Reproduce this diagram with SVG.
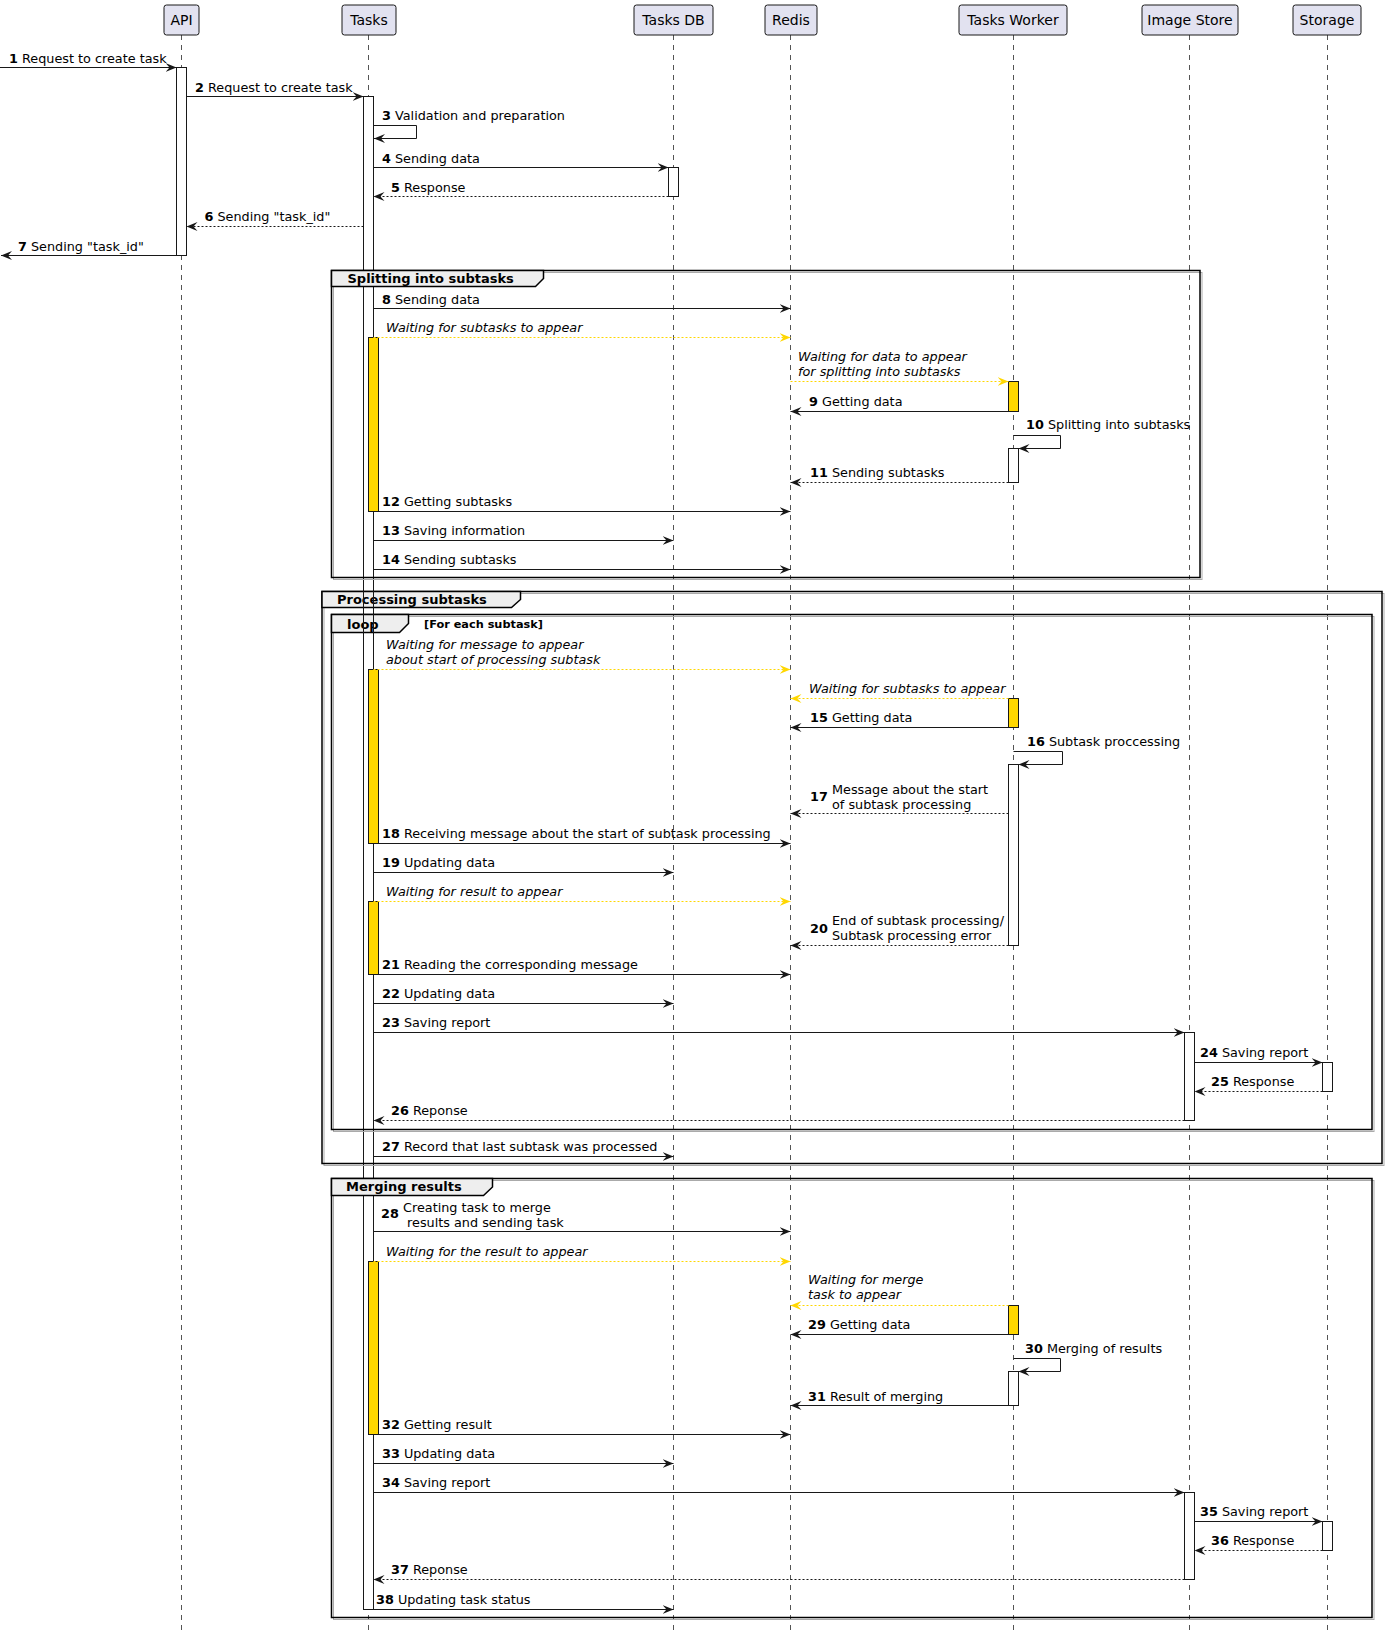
<svg xmlns="http://www.w3.org/2000/svg" width="1386" height="1640" viewBox="0 0 1386 1640">
<style>
text{font-family:"DejaVu Sans","Liberation Sans",sans-serif;fill:#000}
.l{font-size:12.8px}
.it{font-style:italic}
.b{font-weight:bold}
.pt{font-size:14px;text-anchor:middle}
.pbox{fill:#E2E2F0;stroke:#181818;stroke-width:1}
.ll{stroke:#555;stroke-width:1;stroke-dasharray:5,5;fill:none}
.m{stroke:#181818;stroke-width:1;fill:none;marker-end:url(#ah)}
.d{stroke-dasharray:2,2}
.y{stroke:#FFD700;stroke-width:1;fill:none;stroke-dasharray:2,2;marker-end:url(#ahy)}
.bar{fill:#fff;stroke:#181818;stroke-width:1}
.ybar{fill:#FFD700;stroke:#181818;stroke-width:1}
.fr{fill:none;stroke:#000;stroke-width:1.5}
.frs{fill:none;stroke:#aaa;stroke-width:1}
.tab{fill:#EEEEEE;stroke:#000;stroke-width:1.5}
.ft{font-size:13px;font-weight:bold}
.bl{stroke:#181818;stroke-width:1}
</style>
<defs>
<marker id="ah" markerUnits="userSpaceOnUse" markerWidth="12" markerHeight="10" viewBox="0 0 12 10" refX="11" refY="5" orient="auto"><path d="M0,0.5 L11,5 L0,9.5 L4,5 Z" fill="#181818" stroke="none"/></marker>
<marker id="ahy" markerUnits="userSpaceOnUse" markerWidth="12" markerHeight="10" viewBox="0 0 12 10" refX="11" refY="5" orient="auto"><path d="M0,0.5 L11,5 L0,9.5 L4,5 Z" fill="#FFD700" stroke="none"/></marker>
</defs>
<rect width="1386" height="1640" fill="#fff"/>

<g id="lifelines">
<line class="ll" x1="181.5" y1="35" x2="181.5" y2="1632"/>
<line class="ll" x1="368.5" y1="35" x2="368.5" y2="1632"/>
<line class="ll" x1="673.5" y1="35" x2="673.5" y2="1632"/>
<line class="ll" x1="790.5" y1="35" x2="790.5" y2="1632"/>
<line class="ll" x1="1013.5" y1="35" x2="1013.5" y2="1632"/>
<line class="ll" x1="1189.5" y1="35" x2="1189.5" y2="1632"/>
<line class="ll" x1="1327.5" y1="35" x2="1327.5" y2="1632"/>
</g>

<g id="p-api"><rect class="pbox" x="164" y="5" width="35" height="30" rx="2.5"/><text class="pt" x="181.5" y="25">API</text></g>
<g id="p-tasks"><rect class="pbox" x="342" y="5" width="54" height="30" rx="2.5"/><text class="pt" x="369" y="25">Tasks</text></g>
<g id="p-tasksdb"><rect class="pbox" x="634" y="5" width="79" height="30" rx="2.5"/><text class="pt" x="673.5" y="25">Tasks DB</text></g>
<g id="p-redis"><rect class="pbox" x="765" y="5" width="52" height="30" rx="2.5"/><text class="pt" x="791" y="25">Redis</text></g>
<g id="p-worker"><rect class="pbox" x="959" y="5" width="108" height="30" rx="2.5"/><text class="pt" x="1013" y="25">Tasks Worker</text></g>
<g id="p-imagestore"><rect class="pbox" x="1142" y="5" width="96" height="30" rx="2.5"/><text class="pt" x="1190" y="25">Image Store</text></g>
<g id="p-storage"><rect class="pbox" x="1293" y="5" width="68" height="30" rx="2.5"/><text class="pt" x="1327" y="25">Storage</text></g>

<g id="activations">
<rect class="bar" x="176.5" y="67.5" width="10" height="188"/>
<rect class="bar" x="363.5" y="96.5" width="10" height="1513"/>
<rect class="bar" x="668.5" y="167.5" width="10" height="29"/>
<rect class="ybar" x="368.5" y="337.5" width="10" height="174"/>
<rect class="ybar" x="1008.5" y="381.5" width="10" height="30"/>
<rect class="bar" x="1008.5" y="448.5" width="10" height="34"/>
<rect class="ybar" x="368.5" y="669.5" width="10" height="174"/>
<rect class="ybar" x="1008.5" y="698.5" width="10" height="29"/>
<rect class="bar" x="1008.5" y="764.5" width="10" height="181"/>
<rect class="ybar" x="368.5" y="901.5" width="10" height="73"/>
<rect class="bar" x="1184.5" y="1032.5" width="10" height="88"/>
<rect class="bar" x="1322.5" y="1062.5" width="10" height="29"/>
<rect class="ybar" x="368.5" y="1261.5" width="10" height="173"/>
<rect class="ybar" x="1008.5" y="1305.5" width="10" height="29"/>
<rect class="bar" x="1008.5" y="1371.5" width="10" height="34"/>
<rect class="bar" x="1184.5" y="1492.5" width="10" height="87"/>
<rect class="bar" x="1322.5" y="1521.5" width="10" height="29"/>
</g>

<g id="frame-split">
<rect class="frs" x="333.5" y="272.5" width="868.5" height="307"/>
<rect class="fr" x="331.5" y="270.5" width="868.5" height="307"/>
<path class="tab" d="M331.5,270.5 H543.5 V278.5 L535.5,286.5 H331.5 Z"/>
<text class="ft" x="347.5" y="282.5">Splitting into subtasks</text>
</g>
<g id="frame-processing">
<rect class="frs" x="324" y="593.5" width="1060" height="572"/>
<rect class="fr" x="322" y="591.5" width="1060" height="572"/>
<path class="tab" d="M322,591.5 H520.5 V599.5 L511.5,607.5 H322 Z"/>
<text class="ft" x="337" y="603.5">Processing subtasks</text>
<line class="bl" x1="363.5" y1="591" x2="363.5" y2="608"/>
<line class="bl" x1="373.5" y1="591" x2="373.5" y2="608"/>
</g>
<g id="frame-loop">
<rect class="frs" x="333.5" y="616.5" width="1040.5" height="515"/>
<rect class="fr" x="331.5" y="614.5" width="1040.5" height="515"/>
<path class="tab" d="M331.5,614.5 H408.5 V623.5 L399.5,632.5 H331.5 Z"/>
<text class="ft" x="347" y="628.5">loop</text>
<line class="bl" x1="363.5" y1="614" x2="363.5" y2="633"/>
<line class="bl" x1="373.5" y1="614" x2="373.5" y2="633"/>
<text class="b" style="font-size:11.3px" x="424" y="627.5">[For each subtask]</text>
</g>
<g id="frame-merging">
<rect class="frs" x="333.5" y="1180.5" width="1040.5" height="439"/>
<rect class="fr" x="331.5" y="1178.5" width="1040.5" height="439"/>
<path class="tab" d="M331.5,1178.5 H492.5 V1187 L483.5,1195.5 H331.5 Z"/>
<text class="ft" x="346" y="1191">Merging results</text>
</g>

<g id="connectors">
<line class="m" x1="0" y1="67.5" x2="176.5" y2="67.5"/>
<text class="l" x="9" y="62.5"><tspan class="b">1</tspan> Request to create task</text>
<line class="m" x1="186.5" y1="96.5" x2="363.5" y2="96.5"/>
<text class="l" x="195" y="91.5"><tspan class="b">2</tspan> Request to create task</text>
<path class="m" d="M373.5,125.5 H416.5 V138.5 H374"/>
<text class="l" x="382" y="120"><tspan class="b">3</tspan> Validation and preparation</text>
<line class="m" x1="373.5" y1="167.5" x2="668.5" y2="167.5"/>
<text class="l" x="382" y="162.5"><tspan class="b">4</tspan> Sending data</text>
<line class="m d" x1="668.5" y1="196.5" x2="373.5" y2="196.5"/>
<text class="l" x="391" y="191.5"><tspan class="b">5</tspan> Response</text>
<line class="m d" x1="363.5" y1="226.5" x2="186.5" y2="226.5"/>
<text class="l" x="204.5" y="221"><tspan class="b">6</tspan> Sending "task_id"</text>
<line class="m" x1="176.5" y1="255.5" x2="1" y2="255.5"/>
<text class="l" x="18" y="250.5"><tspan class="b">7</tspan> Sending "task_id"</text>

<line class="m" x1="373.5" y1="308.5" x2="790.5" y2="308.5"/>
<text class="l" x="382" y="303.5"><tspan class="b">8</tspan> Sending data</text>
<line class="y" x1="373.5" y1="337.5" x2="790.5" y2="337.5"/>
<text class="l it" x="386" y="332">Waiting for subtasks to appear</text>
<line class="y" x1="790.5" y1="381.5" x2="1008.5" y2="381.5"/>
<text class="l it" x="798" y="361">Waiting for data to appear</text>
<text class="l it" x="798" y="376">for splitting into subtasks</text>
<line class="m" x1="1008.5" y1="411.5" x2="790.5" y2="411.5"/>
<text class="l" x="809" y="405.5"><tspan class="b">9</tspan> Getting data</text>
<path class="m" d="M1013.5,435.5 H1060.5 V448.5 H1018.5"/>
<text class="l" x="1026" y="429"><tspan class="b">10</tspan> Splitting into subtasks</text>
<line class="m d" x1="1008.5" y1="482.5" x2="790.5" y2="482.5"/>
<text class="l" x="810" y="477"><tspan class="b">11</tspan> Sending subtasks</text>
<line class="m" x1="373.5" y1="511.5" x2="790.5" y2="511.5"/>
<text class="l" x="382" y="506"><tspan class="b">12</tspan> Getting subtasks</text>
<line class="m" x1="373.5" y1="540.5" x2="673.5" y2="540.5"/>
<text class="l" x="382" y="535"><tspan class="b">13</tspan> Saving information</text>
<line class="m" x1="373.5" y1="569.5" x2="790.5" y2="569.5"/>
<text class="l" x="382" y="564"><tspan class="b">14</tspan> Sending subtasks</text>

<line class="y" x1="373.5" y1="669.5" x2="790.5" y2="669.5"/>
<text class="l it" x="386" y="648.5">Waiting for message to appear</text>
<text class="l it" x="386" y="664">about start of processing subtask</text>
<line class="y" x1="1008.5" y1="698.5" x2="790.5" y2="698.5"/>
<text class="l it" x="809" y="693">Waiting for subtasks to appear</text>
<line class="m" x1="1008.5" y1="727.5" x2="790.5" y2="727.5"/>
<text class="l" x="810" y="722"><tspan class="b">15</tspan> Getting data</text>
<path class="m" d="M1013.5,751.5 H1062.5 V764.5 H1018.5"/>
<text class="l" x="1027" y="746"><tspan class="b">16</tspan> Subtask proccessing</text>
<line class="m d" x1="1008.5" y1="813.5" x2="790.5" y2="813.5"/>
<text class="l b" x="810" y="801">17</text>
<text class="l" x="832" y="794">Message about the start</text>
<text class="l" x="832" y="809">of subtask processing</text>
<line class="m" x1="373.5" y1="843.5" x2="790.5" y2="843.5"/>
<text class="l" x="382" y="838"><tspan class="b">18</tspan> Receiving message about the start of subtask processing</text>
<line class="m" x1="373.5" y1="872.5" x2="673.5" y2="872.5"/>
<text class="l" x="382" y="867"><tspan class="b">19</tspan> Updating data</text>
<line class="y" x1="373.5" y1="901.5" x2="790.5" y2="901.5"/>
<text class="l it" x="386" y="896">Waiting for result to appear</text>
<line class="m d" x1="1008.5" y1="945.5" x2="790.5" y2="945.5"/>
<text class="l b" x="810" y="933">20</text>
<text class="l" x="832" y="925">End of subtask processing/</text>
<text class="l" x="832" y="940">Subtask processing error</text>
<line class="m" x1="373.5" y1="974.5" x2="790.5" y2="974.5"/>
<text class="l" x="382" y="969"><tspan class="b">21</tspan> Reading the corresponding message</text>
<line class="m" x1="373.5" y1="1003.5" x2="673.5" y2="1003.5"/>
<text class="l" x="382" y="998"><tspan class="b">22</tspan> Updating data</text>
<line class="m" x1="373.5" y1="1032.5" x2="1184.5" y2="1032.5"/>
<text class="l" x="382" y="1027"><tspan class="b">23</tspan> Saving report</text>
<line class="m" x1="1194.5" y1="1062.5" x2="1322.5" y2="1062.5"/>
<text class="l" x="1200" y="1057"><tspan class="b">24</tspan> Saving report</text>
<line class="m d" x1="1322.5" y1="1091.5" x2="1194.5" y2="1091.5"/>
<text class="l" x="1211" y="1086"><tspan class="b">25</tspan> Response</text>
<line class="m d" x1="1184.5" y1="1120.5" x2="373.5" y2="1120.5"/>
<text class="l" x="391" y="1115"><tspan class="b">26</tspan> Reponse</text>
<line class="m" x1="373.5" y1="1156.5" x2="673.5" y2="1156.5"/>
<text class="l" x="382" y="1151"><tspan class="b">27</tspan> Record that last subtask was processed</text>

<line class="m" x1="373.5" y1="1231.5" x2="790.5" y2="1231.5"/>
<text class="l b" x="381" y="1218">28</text>
<text class="l" x="403" y="1211.5">Creating task to merge</text>
<text class="l" x="403" y="1226.5" xml:space="preserve"> results and sending task</text>
<line class="y" x1="373.5" y1="1261.5" x2="790.5" y2="1261.5"/>
<text class="l it" x="386" y="1256">Waiting for the result to appear</text>
<line class="y" x1="1008.5" y1="1305.5" x2="790.5" y2="1305.5"/>
<text class="l it" x="808" y="1284">Waiting for merge</text>
<text class="l it" x="808" y="1299">task to appear</text>
<line class="m" x1="1008.5" y1="1334.5" x2="790.5" y2="1334.5"/>
<text class="l" x="808" y="1329"><tspan class="b">29</tspan> Getting data</text>
<path class="m" d="M1013.5,1358.5 H1060.5 V1371.5 H1018.5"/>
<text class="l" x="1025" y="1352.5"><tspan class="b">30</tspan> Merging of results</text>
<line class="m" x1="1008.5" y1="1405.5" x2="790.5" y2="1405.5"/>
<text class="l" x="808" y="1400.5"><tspan class="b">31</tspan> Result of merging</text>
<line class="m" x1="373.5" y1="1434.5" x2="790.5" y2="1434.5"/>
<text class="l" x="382" y="1429"><tspan class="b">32</tspan> Getting result</text>
<line class="m" x1="373.5" y1="1463.5" x2="673.5" y2="1463.5"/>
<text class="l" x="382" y="1458"><tspan class="b">33</tspan> Updating data</text>
<line class="m" x1="373.5" y1="1492.5" x2="1184.5" y2="1492.5"/>
<text class="l" x="382" y="1487"><tspan class="b">34</tspan> Saving report</text>
<line class="m" x1="1194.5" y1="1521.5" x2="1322.5" y2="1521.5"/>
<text class="l" x="1200" y="1516"><tspan class="b">35</tspan> Saving report</text>
<line class="m d" x1="1322.5" y1="1550.5" x2="1194.5" y2="1550.5"/>
<text class="l" x="1211" y="1545"><tspan class="b">36</tspan> Response</text>
<line class="m d" x1="1184.5" y1="1579.5" x2="373.5" y2="1579.5"/>
<text class="l" x="391" y="1574"><tspan class="b">37</tspan> Reponse</text>
<line class="m" x1="373.5" y1="1609.5" x2="673.5" y2="1609.5"/>
<text class="l" x="376" y="1604"><tspan class="b">38</tspan> Updating task status</text>
</g>
</svg>
